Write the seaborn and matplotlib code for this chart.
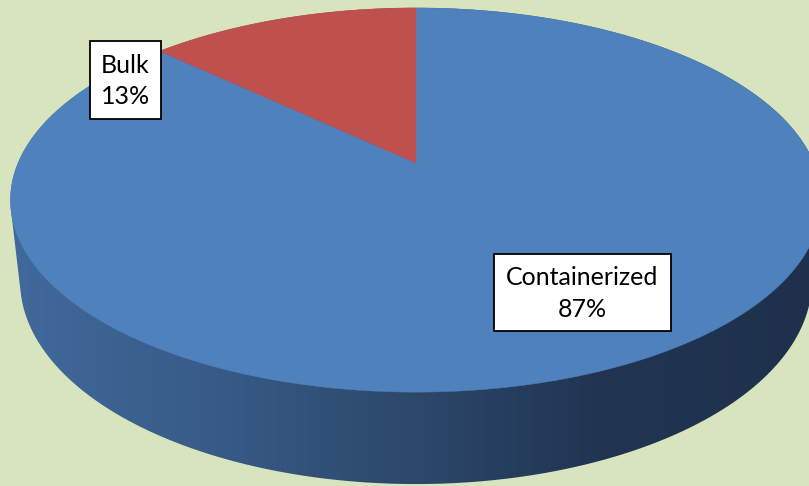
import numpy as np
import matplotlib
matplotlib.use("Agg")
import matplotlib.pyplot as plt
from matplotlib.patches import Polygon, Rectangle
import seaborn as sns

# Share of cargo by handling type (percent)
categories = ["Containerized", "Bulk"]
shares = [87, 13]
slice_colors = ["#4F81BD", "#C0504D"]

sns.set_theme(style="white")
plt.rcParams["font.family"] = ["Lato", "DejaVu Sans"]

BG = "#D8E4BD"
W, H = 809, 486
fig = plt.figure(figsize=(W / 100, H / 100), dpi=100, facecolor=BG)
ax = fig.add_axes([0, 0, 1, 1])
ax.set_facecolor(BG)

# Perspective camera looking down on a flat cylinder of radius 1
theta = np.radians(27.7)
D = 4.596
focal = 1829.0
cx, cy = 416.0, 163.0
thick = 0.232


def project(u, v, z):
    d = D - v * np.cos(theta) - z * np.sin(theta)
    x = cx + focal * u / d
    y = cy + focal * (v * np.sin(theta) - z * np.cos(theta)) / d
    return x, y


def hull(points):
    pts = sorted(set(map(tuple, np.round(points, 3))))
    def cross(o, a, b):
        return (a[0] - o[0]) * (b[1] - o[1]) - (a[1] - o[1]) * (b[0] - o[0])
    lower, upper = [], []
    for p in pts:
        while len(lower) >= 2 and cross(lower[-2], lower[-1], p) <= 0:
            lower.pop()
        lower.append(p)
    for p in reversed(pts):
        while len(upper) >= 2 and cross(upper[-2], upper[-1], p) <= 0:
            upper.pop()
        upper.append(p)
    return np.array(lower[:-1] + upper[:-1])


phi = np.linspace(0, 2 * np.pi, 721)
tx, ty = project(np.cos(phi), np.sin(phi), 0.0)
bx, by = project(np.cos(phi), np.sin(phi), -thick)

# Side wall: outline of the whole solid, shaded darker to the right
outline = hull(np.column_stack([np.r_[tx, bx], np.r_[ty, by]]))
side = Polygon(outline, closed=True, facecolor="none", edgecolor="none")
ax.add_patch(side)
xs = np.linspace(0, W, 500)
shade_x = [0, 200, 416, 600, 809]
shade_rgb = np.array([[65, 106, 158], [57, 92, 136], [44, 72, 106],
                      [33, 53, 82], [30, 48, 76]]) / 255
grad = np.column_stack([np.interp(xs, shade_x, shade_rgb[:, c]) for c in range(3)])
img = ax.imshow(grad[None, :, :], extent=(0, W, H, 0),
                aspect="auto", interpolation="bilinear", zorder=1)
img.set_clip_path(side)

# Top face: one wedge per category, clockwise from twelve o'clock
cum = np.concatenate([[0], np.cumsum(shares)]) / np.sum(shares)
for i, (cat, val) in enumerate(zip(categories, shares)):
    a0 = -np.pi / 2 + 2 * np.pi * cum[i]
    a1 = -np.pi / 2 + 2 * np.pi * cum[i + 1]
    ang = np.linspace(a0, a1, 400)
    wx, wy = project(np.cos(ang), np.sin(ang), 0.0)
    ox, oy = project(0.0, 0.0, 0.0)
    verts = np.column_stack([np.r_[ox, wx], np.r_[oy, wy]])
    ax.add_patch(Polygon(verts, closed=True, facecolor=slice_colors[i],
                         edgecolor=slice_colors[i], linewidth=0.3, zorder=2))

# Data labels in white boxes
label_boxes = {"Containerized": (494, 254, 177, 77), "Bulk": (90, 41, 71, 78)}
for cat, val in zip(categories, shares):
    x0, y0, w, h = label_boxes[cat]
    ax.add_patch(Rectangle((x0, y0), w, h, facecolor="white",
                           edgecolor="black", linewidth=1.3, zorder=3))
    ax.text(x0 + w / 2, y0 + h / 2 + 1, f"{cat}\n{val}%", ha="center",
            va="center", fontsize=18, color="black", linespacing=1.45,
            zorder=4)

ax.set_xlim(0, W)
ax.set_ylim(H, 0)
ax.axis("off")
fig.savefig("out.png", dpi=100, facecolor=BG)
